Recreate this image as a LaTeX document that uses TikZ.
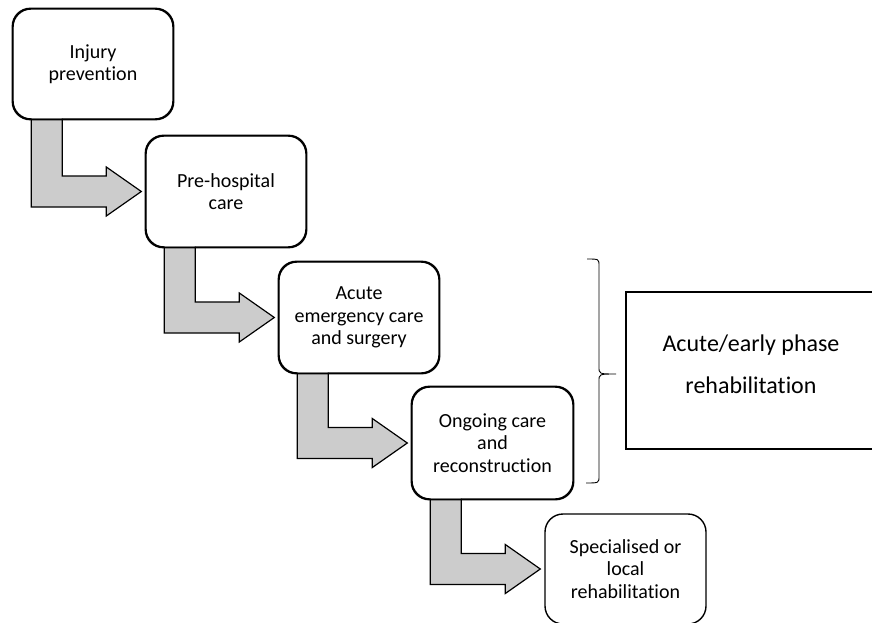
\documentclass[tikz,border=0pt]{standalone}
\usepackage{fontspec}
\setmainfont{Carlito}[Ligatures=NoCommon]
\usetikzlibrary{calc}
\begin{document}
\begin{tikzpicture}[x=1pt,y=-1pt,
  stagebox/.style={draw=black, line width=1.4pt, fill=white, rounded corners=18pt,
    align=center, inner sep=0pt, minimum width=160pt, minimum height=111pt,
    font=\fontsize{20}{22.5}\selectfont},
  phasebox/.style={draw=black, line width=1.7pt, fill=white, inner sep=0pt,
    minimum width=249pt, minimum height=157pt},
  phasetext/.style={align=center, inner sep=0pt, font=\fontsize{24}{42}\selectfont},
  bentarrow/.style={draw=black, line width=1.2pt, fill=black!20, line join=miter}
]
\useasboundingbox (0,0) rectangle (872,623);

% boxes
\node[stagebox, minimum height=110pt] (b1) at (93,64) {Injury\\prevention};
\node[stagebox] (b2) at (226,191.5) {Pre-hospital\\care};
\node[stagebox] (b3) at (359,317.5) {Acute\\emergency care\\and surgery};
\node[stagebox, minimum width=161pt, minimum height=112pt] (b4) at (492.5,443) {Ongoing care\\and\\reconstruction};
\node[stagebox, minimum width=161pt, minimum height=110pt] (b5) at (625.5,569) {Specialised or\\local\\rehabilitation};
\node[phasebox] (ph) at (750.5,370.5) {};
\node[phasetext] (pht) at (751,364) {Acute/early phase\\rehabilitation};

% bent arrows
\foreach \a/\b in {b1/b2, b2/b3, b3/b4, b4/b5}{
  \path[bentarrow] let \p1=(\a.south west), \p2=(\b.west) in
    (\x1+19pt,\y1+1pt) -- (\x1+19pt,\y2-15.5pt) -- (\x2-39pt,\y2-15.5pt)
    -- (\x2-39pt,\y2-24.5pt) -- (\x2-4pt,\y2) -- (\x2-39pt,\y2+24.5pt)
    -- (\x2-39pt,\y2+15.5pt) -- (\x1+50pt,\y2+15.5pt) -- (\x1+50pt,\y1+1pt);
}

% redraw box outlines over arrow tops
\foreach \n in {b1,b2,b3,b4}{
  \draw[line width=1.4pt, rounded corners=18pt] (\n.south west) rectangle (\n.north east);
}

% brace
\coordinate (bt) at (587,259);
\coordinate (bm) at (616,374);
\coordinate (bb) at (586,483);
\draw[line width=0.9pt] (bt) .. controls (599,259) .. (599,266) -- (599,367)
  .. controls (599,374) .. (bm)
  .. controls (599,374) .. (599,381) -- (599,476) .. controls (599,483) .. (bb);
\end{tikzpicture}
\end{document}
